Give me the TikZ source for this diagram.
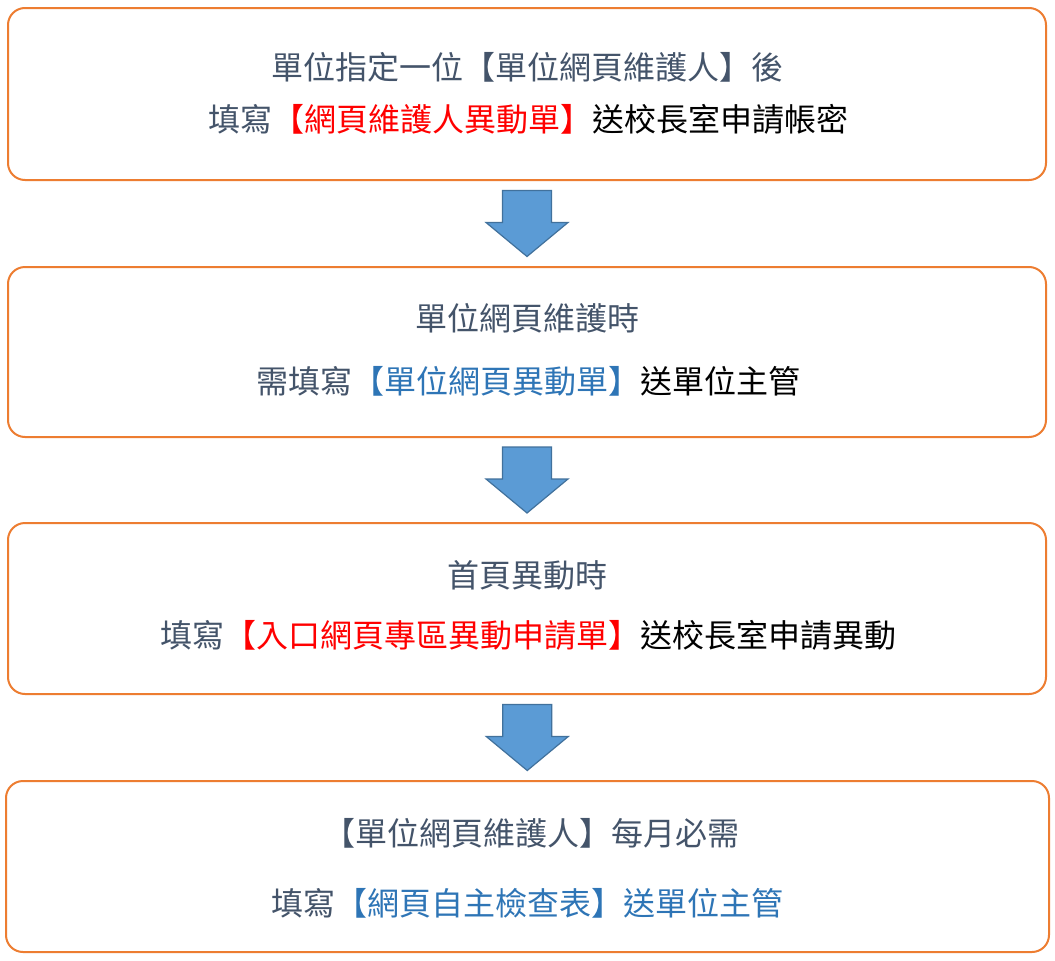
\documentclass[tikz,border=0pt]{standalone}
\usepackage{fontspec}
\newfontfamily\cjk{Noto Sans CJK TC}
\usetikzlibrary{calc}
\definecolor{boxorange}{HTML}{ED7D31}
\definecolor{slate}{HTML}{44546A}
\definecolor{linkblue}{HTML}{2E75B6}
\definecolor{arrfill}{HTML}{5B9BD5}
\definecolor{arrline}{HTML}{41719C}
\definecolor{redtxt}{HTML}{FF0000}
\tikzset{
  stepbox/.style={draw=boxorange, line width=2pt, rounded corners=17pt, fill=white, inner sep=0pt},
  txt/.style={inner sep=0pt, font=\cjk\fontsize{32}{37}\selectfont, text=slate, anchor=center},
  blockarr/.style={fill=arrfill, draw=arrline, line width=1.2pt, line join=miter},
}
\newcommand\downblock[1]{%
  \draw[blockarr] ($(#1)+(-24.5,-33)$) -- ($(#1)+(24.5,-33)$) -- ($(#1)+(24.5,-1)$) -- ($(#1)+(41,-1)$) -- ($(#1)+(0,33)$) -- ($(#1)+(-41,-1)$) -- ($(#1)+(-24.5,-1)$) -- cycle;}
\begin{document}
\begin{tikzpicture}[x=1pt,y=-1pt]
\useasboundingbox (0,0) rectangle (1055,961);
\fill[white] (0,0) rectangle (1055,961);
% boxes
\node[stepbox, minimum width=1038pt, minimum height=172pt] (b1) at (527,94) {};
\node[stepbox, minimum width=1038pt, minimum height=170pt] (b2) at (527,352) {};
\node[stepbox, minimum width=1038pt, minimum height=171pt] (b3) at (527,608.5) {};
\node[stepbox, minimum width=1043pt, minimum height=171pt] (b4) at (527.5,866.5) {};
% texts
\node[txt] (t11) at (527,67) {單位指定一位【單位網頁維護人】後};
\node[txt] (t12) at (528,119) {填寫\textcolor{redtxt}{【網頁維護人異動單】}\textcolor{black}{送校長室申請帳密}};
\node[txt] (t21) at (527,318) {單位網頁維護時};
\node[txt] (t22) at (528,381) {需填寫\textcolor{linkblue}{【單位網頁異動單】}\textcolor{black}{送單位主管}};
\node[txt] (t31) at (527,575) {首頁異動時};
\node[txt] (t32) at (528,635) {填寫\textcolor{redtxt}{【入口網頁專區異動申請單】}\textcolor{black}{送校長室申請異動}};
\node[txt] (t41) at (531,833) {【單位網頁維護人】每月必需};
\node[txt] (t42) at (527,903) {填寫\textcolor{linkblue}{【網頁自主檢查表】送單位主管}};
% arrows
\coordinate (a1) at ($(b1.south)!0.5!(b2.north)$);
\coordinate (a2) at ($(b2.south)!0.5!(b3.north)$);
\coordinate (a3) at ($(b3.south)!0.5!(b4.north)$);
\downblock{a1}
\downblock{a2}
\downblock{a3}
\end{tikzpicture}
\end{document}
